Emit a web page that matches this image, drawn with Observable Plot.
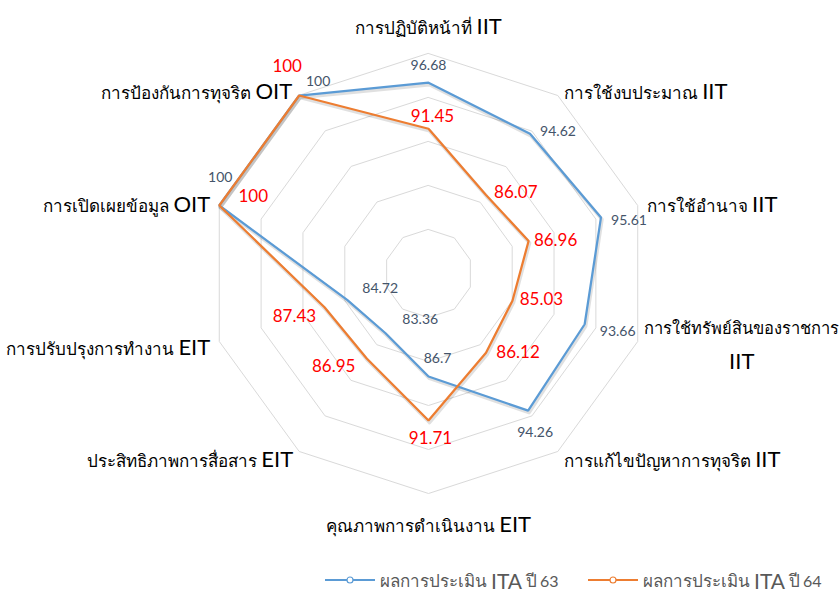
<!DOCTYPE html>
<html>
<head>
<meta charset="utf-8">
<script src="https://cdn.jsdelivr.net/npm/d3@7"></script>
<script src="https://cdn.jsdelivr.net/npm/@observablehq/plot@0.6"></script>
<style>
  body { margin: 0; background: #fff; }
  #chart svg { display: block; }
  #legend { height: 28px; position: relative; font-family: Lato, "Noto Sans", sans-serif; color: #595959; }
  .item { position: absolute; top: 0; height: 28px; display: flex; align-items: center; white-space: nowrap; }
  .item svg { margin-right: 5px; }
  .item .th { font-size: 17px; }
  .item .lat { font-size: 21px; margin: 0 4px; }
  .item .num { font-size: 16px; margin-left: 3px; }
</style>
</head>
<body>
<div id="chart"></div>
<div id="legend"></div>
<script>
const categories = [
  "การปฏิบัติหน้าที่ IIT",
  "การใช้งบประมาณ IIT",
  "การใช้อำนาจ IIT",
  "การใช้ทรัพย์สินของราชการ\nIIT",
  "การแก้ไขปัญหาการทุจริต IIT",
  "คุณภาพการดำเนินงาน EIT",
  "ประสิทธิภาพการสื่อสาร EIT",
  "การปรับปรุงการทำงาน EIT",
  "การเปิดเผยข้อมูล OIT",
  "การป้องกันการทุจริต OIT"
];
const ita63 = [96.68, 94.62, 95.61, 93.66, 94.26, 86.7, 83.36, 84.72, 100, 100];
const ita64 = [91.45, 86.07, 86.96, 85.03, 86.12, 91.71, 86.95, 87.43, 100, 100];
const seriesNames = ["ผลการประเมิน ITA ปี 63", "ผลการประเมิน ITA ปี 64"];
const gridLevels = [80, 85, 90, 95, 100];
const rMin = 75, rMax = 100;

// styling
const colors = ["#5B9BD5", "#ED7D31"];
const R = 220;            // pixel radius of the outer ring
const W = 840, H = 566;
const CX = 428, CY = 273; // pixel center
// label offsets (pixels) for value labels
const off63 = [[0,-17],[28,-2],[28,3],[33,7],[7,22],[9,-18],[35,-14],[33,-11],[1,-28],[19,-14]];
const off64 = [[4,-12],[30,-2],[27,0],[29,-1],[32,0],[2,18],[-33,8],[-30,9],[34,-9],[-12,-29]];
const catStyle = [
  {a:"middle", dx:0, dy:-31, fs:17}, {a:"start", dx:6, dy:-8, fs:17}, {a:"start", dx:9, dy:-5, fs:17},
  {a:"middle", dx:104, dy:-1, fs:16.5}, {a:"start", dx:6, dy:4, fs:17}, {a:"middle", dx:0, dy:27, fs:17},
  {a:"end", dx:-6, dy:4, fs:17}, {a:"end", dx:-9, dy:2, fs:17}, {a:"end", dx:-9, dy:-5, fs:17}, {a:"end", dx:-7, dy:-8, fs:17}
];

const n = categories.length;
const rad = v => (v - rMin) / (rMax - rMin);
const pt = (i, v) => {
  const t = i * 2 * Math.PI / n;
  return {x: rad(v) * Math.sin(t), y: rad(v) * Math.cos(t)};
};

const grid = gridLevels.flatMap(l => categories.map((c, i) => ({level: l, ...pt(i, l)})));
const series = [ita63, ita64].map((vals, s) => vals.map((v, i) => ({s, i, v, ...pt(i, v)})));

const xDom = [-CX / R, (W - CX) / R];
const yDom = [-(H - CY) / R, CY / R];

const marks = [
  Plot.line(grid, {x: "x", y: "y", z: "level", curve: "linear-closed", stroke: "#D9D9D9", strokeWidth: 1})
];
series.forEach((d, s) => {
  marks.push(Plot.line(d, {x: "x", y: "y", curve: "linear-closed", stroke: "#000", strokeOpacity: 0.12, strokeWidth: 3.5, dx: 1, dy: 2}));
});
series.forEach((d, s) => {
  marks.push(Plot.line(d, {x: "x", y: "y", curve: "linear-closed", stroke: colors[s], strokeWidth: 2.25, strokeLinejoin: "miter"}));
});
series[0].forEach((d, i) => {
  marks.push(Plot.text([d], {x: "x", y: "y", text: d => String(d.v), dx: off63[i][0], dy: off63[i][1],
    fill: "#44546A", fontSize: 14, fontFamily: "Lato, 'Open Sans', sans-serif"}));
});
series[1].forEach((d, i) => {
  marks.push(Plot.text([d], {x: "x", y: "y", text: d => String(d.v), dx: off64[i][0], dy: off64[i][1],
    fill: "#FF0000", fontSize: 17, fontFamily: "Lato, 'Open Sans', sans-serif"}));
});
categories.forEach((c, i) => {
  const p = pt(i, rMax);
  marks.push(Plot.text([{...p, c}], {x: "x", y: "y", text: "c", textAnchor: catStyle[i].a,
    dx: catStyle[i].dx, dy: catStyle[i].dy, lineHeight: 2.1,
    fill: "#000", fontSize: catStyle[i].fs, className: "catlabel"}));
});

const chart = Plot.plot({
  width: W, height: H,
  marginTop: 0, marginBottom: 0, marginLeft: 0, marginRight: 0,
  x: {domain: xDom, axis: null},
  y: {domain: yDom, axis: null},
  style: {fontFamily: "Lato, 'Noto Sans', sans-serif", background: "#fff"},
  marks
});
document.getElementById("chart").appendChild(chart);

// enlarge the Latin suffix (IIT / EIT / OIT) of each category label
d3.select(chart).selectAll(".catlabel text").each(function() {
  const t = d3.select(this);
  const spans = t.selectAll("tspan");
  const targets = spans.empty() ? [this] : spans.nodes();
  targets.forEach(node => {
    const txt = node.textContent;
    const m = txt.match(/^(.*?)( ?)(IIT|EIT|OIT)$/);
    if (!m) return;
    const sel = d3.select(node);
    sel.text(m[1] + m[2]);
    sel.append("tspan").attr("font-size", 22).text(m[3]);
  });
});

// legend
const legend = document.getElementById("legend");
const lx = [325, 588];
seriesNames.forEach((name, s) => {
  const m = name.match(/^(.*) (ITA) (.*) (\d+)$/);
  const div = document.createElement("div");
  div.className = "item";
  div.style.left = lx[s] + "px";
  div.innerHTML = `<svg width="50" height="10"><line x1="0" y1="5" x2="50" y2="5" stroke="${colors[s]}" stroke-width="2"/><circle cx="25" cy="5" r="3" fill="#fff" stroke="${colors[s]}" stroke-width="1.2"/></svg>` +
    `<span class="th">${m[1]}</span><span class="lat">${m[2]}</span><span class="th">${m[3]}</span><span class="num">${m[4]}</span>`;
  legend.appendChild(div);
});
</script>
</body>
</html>
